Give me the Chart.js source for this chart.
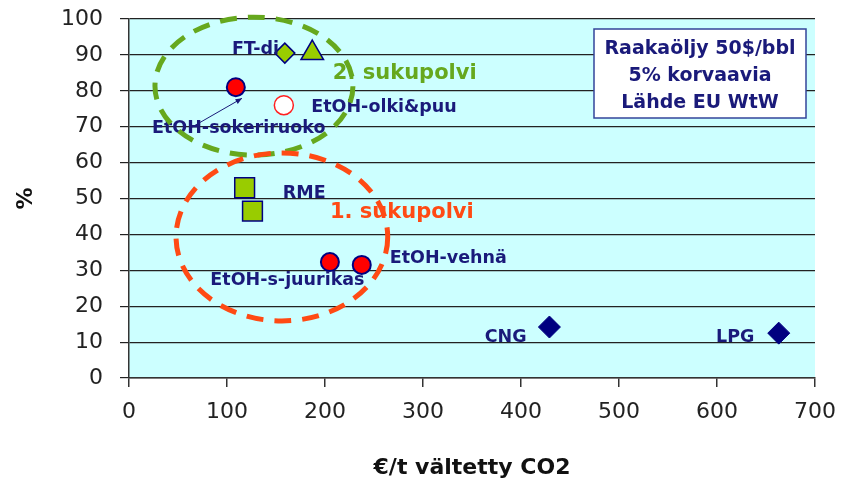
<!DOCTYPE html>
<html>
<head>
<meta charset="utf-8">
<script src="https://cdn.jsdelivr.net/npm/chart.js@4.4.1/dist/chart.umd.min.js"></script>
<style>
  html, body { margin: 0; padding: 0; background: #ffffff; }
  #wrap { width: 841px; height: 481px; }
</style>
</head>
<body>
<div id="wrap"><canvas id="chart" width="841" height="481"></canvas></div>
<script>
// values (x = €/t avoided CO2, y = %)
var ftDiesel = [{ x: 159, y: 90.5 }];
var ftDieselTri = [{ x: 187, y: 90.5 }];
var etohSugarcane = [{ x: 109, y: 81 }];
var etohStraw = [{ x: 158, y: 76 }];
var rme = [{ x: 118, y: 53 }, { x: 126, y: 46.5 }];
var etohCrops = [{ x: 205, y: 32.3 }, { x: 237.5, y: 31.5 }];
var gasFuels = [{ x: 429, y: 14.2 }, { x: 663, y: 12.5 }];

// point labels (text, anchor in data units, left aligned)
var labelTexts = ["FT-di", "EtOH-olki&puu", "EtOH-sokeriruoko", "RME", "EtOH-vehnä", "EtOH-s-juurikas", "CNG", "LPG"];
var labelX = [105, 186, 23.5, 157, 266, 83, 363, 599];
var labelY = [91.6, 75.5, 69.6, 51.5, 33.4, 27.3, 11.4, 11.4];

// group ellipses: centre and radii in data units
var groupNames = ["2. sukupolvi", "1. sukupolvi"];
var groupColors = ["#66a81e", "#ff4a14"];
var groupCx = [127.5, 156];
var groupCy = [81.3, 39.3];
var groupRx = [101, 108];
var groupRy = [19.2, 23.4];
var groupLabelX = [208, 205];
var groupLabelY = [84.7, 46.2];

var infoLines = ["Raakaöljy 50$/bbl", "5% korvaavia", "Lähde EU WtW"];

var navy = "#1a1a7a";

var overlay = {
  id: "overlay",
  beforeDraw: function (chart) {
    var a = chart.chartArea, c = chart.ctx;
    c.save();
    c.fillStyle = "#ccffff";
    c.fillRect(a.left, a.top, a.right - a.left, a.bottom - a.top);
    c.restore();
  },
  afterDatasetsDraw: function (chart) {
    var c = chart.ctx, xs = chart.scales.x, ys = chart.scales.y;
    c.save();
    // point labels
    c.font = "bold 17.5px 'DejaVu Sans'";
    c.fillStyle = navy;
    c.textAlign = "left";
    c.textBaseline = "middle";
    for (var i = 0; i < labelTexts.length; i++) {
      c.fillText(labelTexts[i], xs.getPixelForValue(labelX[i]), ys.getPixelForValue(labelY[i]));
    }
    // arrow to sugarcane point
    var x1 = xs.getPixelForValue(64.3), y1 = ys.getPixelForValue(69.9);
    var x2 = xs.getPixelForValue(115.3), y2 = ys.getPixelForValue(77.9);
    c.strokeStyle = navy;
    c.lineWidth = 1;
    c.beginPath(); c.moveTo(x1, y1); c.lineTo(x2, y2); c.stroke();
    var ang = Math.atan2(y2 - y1, x2 - x1);
    c.beginPath();
    c.moveTo(x2, y2);
    c.lineTo(x2 - 7 * Math.cos(ang - 0.4), y2 - 7 * Math.sin(ang - 0.4));
    c.lineTo(x2 - 7 * Math.cos(ang + 0.4), y2 - 7 * Math.sin(ang + 0.4));
    c.closePath();
    c.fillStyle = navy;
    c.fill();
    // group labels and dashed ellipses
    for (var g = 0; g < groupNames.length; g++) {
      c.font = "bold 21px 'DejaVu Sans'";
      c.fillStyle = groupColors[g];
      c.fillText(groupNames[g], xs.getPixelForValue(groupLabelX[g]), ys.getPixelForValue(groupLabelY[g]));
      var cx = xs.getPixelForValue(groupCx[g]), cy = ys.getPixelForValue(groupCy[g]);
      var rx = xs.getPixelForValue(groupCx[g] + groupRx[g]) - cx;
      var ry = cy - ys.getPixelForValue(groupCy[g] + groupRy[g]);
      c.strokeStyle = groupColors[g];
      c.lineWidth = 5;
      c.setLineDash([17, 11]);
      c.beginPath();
      c.ellipse(cx, cy, rx, ry, 0, 0, Math.PI * 2);
      c.stroke();
    }
    c.setLineDash([]);
    // info box
    var bx = 594, by = 29, bw = 212, bh = 89;
    c.fillStyle = "#ffffff";
    c.fillRect(bx, by, bw, bh);
    c.strokeStyle = "#33449a";
    c.lineWidth = 1.5;
    c.strokeRect(bx, by, bw, bh);
    c.font = "bold 19px 'DejaVu Sans'";
    c.fillStyle = navy;
    c.textAlign = "center";
    for (var k = 0; k < infoLines.length; k++) {
      c.fillText(infoLines[k], bx + bw / 2, by + 20 + k * 27);
    }
    c.restore();
  }
};

var ctx = document.getElementById("chart");
var myChart = new Chart(ctx, {
  type: "scatter",
  data: {
    datasets: [
      { data: ftDiesel, pointStyle: "rectRot", radius: 10, backgroundColor: "#99cc00", borderColor: "#000080", borderWidth: 1.5 },
      { data: ftDieselTri, pointStyle: "triangle", radius: 13, backgroundColor: "#99cc00", borderColor: "#000080", borderWidth: 1.5 },
      { data: etohSugarcane, pointStyle: "circle", radius: 9, backgroundColor: "#ff0000", borderColor: "#000080", borderWidth: 2 },
      { data: etohStraw, pointStyle: "circle", radius: 9.5, backgroundColor: "#ffffff", borderColor: "#ff2020", borderWidth: 1.5 },
      { data: rme, pointStyle: "rect", radius: 14, backgroundColor: "#99cc00", borderColor: "#000080", borderWidth: 1.5 },
      { data: etohCrops, pointStyle: "circle", radius: 9, backgroundColor: "#ff0000", borderColor: "#000080", borderWidth: 2 },
      { data: gasFuels, pointStyle: "rectRot", radius: 11, backgroundColor: "#000080", borderColor: "#000080", borderWidth: 1 }
    ]
  },
  options: {
    responsive: false,
    animation: false,
    layout: { padding: { left: 0, right: 26, top: 19, bottom: 0 } },
    plugins: { legend: { display: false }, tooltip: { enabled: false } },
    scales: {
      x: {
        type: "linear", min: 0, max: 700,
        ticks: { stepSize: 100, color: "#222", padding: 12, font: { family: "DejaVu Sans", size: 22 } },
        grid: { drawOnChartArea: false, drawTicks: true, tickLength: 9, color: "#333", lineWidth: 1.5 },
        border: { color: "#333", width: 1.5 },
        title: { display: true, text: "€/t vältetty CO2", color: "#111", padding: { top: 8, bottom: 0 }, font: { family: "DejaVu Sans", size: 22, weight: "bold" } },
        afterFit: function (s) { s.height = 103; s.paddingLeft = 0; s.paddingRight = 0; }
      },
      y: {
        type: "linear", min: 0, max: 100,
        ticks: { stepSize: 10, color: "#222", padding: 17, font: { family: "DejaVu Sans", size: 22 } },
        grid: { color: "#222", lineWidth: 1.2, tickLength: 9 },
        border: { color: "#333", width: 1.5 },
        title: { display: true, text: "%", color: "#111", padding: { top: 13, bottom: 0 }, font: { family: "DejaVu Sans", size: 22, weight: "bold" } },
        afterFit: function (s) { s.width = 129; s.paddingTop = 0; s.paddingBottom = 0; }
      }
    }
  },
  plugins: [overlay]
});
</script>
</body>
</html>
